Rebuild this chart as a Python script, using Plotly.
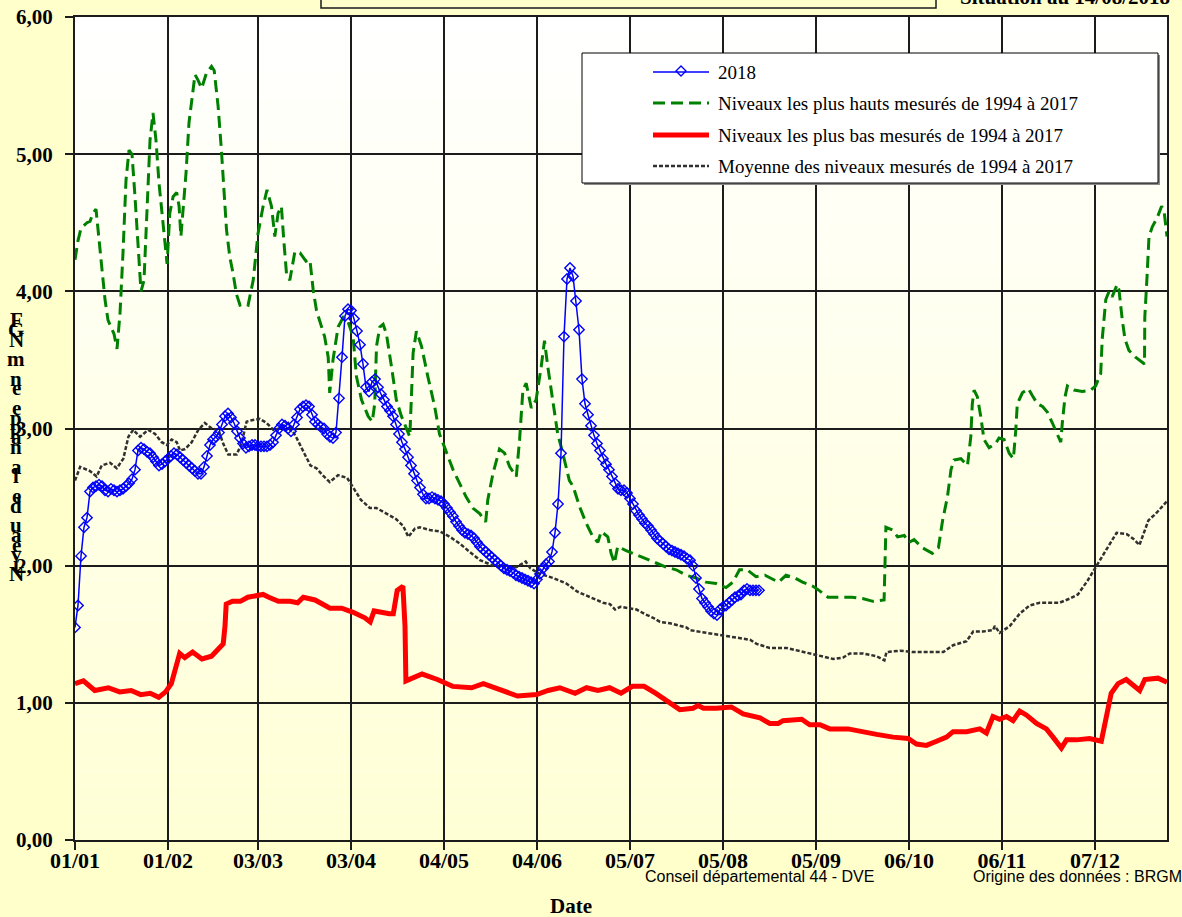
import plotly.graph_objects as go

# ---------------- data ----------------
TICK_DAYS = [0, 31, 61, 92, 123, 154, 185, 216, 247, 278, 309, 340]
TICK_LABELS = ["01/01", "01/02", "03/03", "03/04", "04/05", "04/06",
               "05/07", "05/08", "05/09", "06/10", "06/11", "07/12"]
Y_TICKS = [0, 1, 2, 3, 4, 5, 6]
Y_LABELS = ["0,00", "1,00", "2,00", "3,00", "4,00", "5,00", "6,00"]

DAYS_2018 = list(range(0, 229))
LEVEL_2018 = [
    1.55, 1.71, 2.07, 2.28, 2.35, 2.54, 2.57, 2.58, 2.59, 2.58,
    2.55, 2.54, 2.56, 2.55, 2.54, 2.55, 2.56, 2.58, 2.60, 2.63,
    2.70, 2.84, 2.86, 2.85, 2.83, 2.82, 2.79, 2.76, 2.73, 2.74,
    2.76, 2.78, 2.80, 2.82, 2.81, 2.79, 2.77, 2.75, 2.73, 2.71,
    2.69, 2.67, 2.67, 2.72, 2.80, 2.88, 2.92, 2.94, 2.97, 3.03,
    3.09, 3.11, 3.08, 3.04, 2.98, 2.93, 2.89, 2.86, 2.87, 2.88,
    2.88, 2.87, 2.87, 2.87, 2.87, 2.88, 2.90, 2.95, 3.00, 3.03,
    3.02, 3.00, 2.98, 3.03, 3.08, 3.14, 3.16, 3.17, 3.16, 3.10,
    3.05, 3.03, 3.01, 3.00, 2.96, 2.94, 2.93, 2.97, 3.22, 3.52,
    3.82, 3.87, 3.86, 3.80, 3.71, 3.61, 3.47, 3.30, 3.27, 3.34,
    3.36, 3.30, 3.25, 3.21, 3.16, 3.13, 3.09, 3.03, 2.96, 2.90,
    2.85, 2.79, 2.73, 2.67, 2.62, 2.57, 2.52, 2.49, 2.49, 2.50,
    2.49, 2.48, 2.47, 2.45, 2.42, 2.39, 2.36, 2.32, 2.29, 2.26,
    2.24, 2.23, 2.22, 2.20, 2.17, 2.14, 2.12, 2.10, 2.08, 2.06,
    2.04, 2.02, 2.00, 1.98, 1.97, 1.96, 1.95, 1.93, 1.92, 1.91,
    1.90, 1.89, 1.88, 1.87, 1.90, 1.94, 1.98, 2.01, 2.03, 2.10,
    2.24, 2.45, 2.82, 3.67, 4.09, 4.17, 4.11, 3.93, 3.72, 3.36,
    3.18, 3.10, 3.02, 2.95, 2.89, 2.84, 2.78, 2.74, 2.70, 2.65,
    2.60, 2.56, 2.55, 2.55, 2.53, 2.49, 2.45, 2.40, 2.37, 2.34,
    2.31, 2.29, 2.26, 2.23, 2.20, 2.18, 2.16, 2.14, 2.12, 2.11,
    2.10, 2.09, 2.08, 2.07, 2.05, 2.04, 2.00, 1.91, 1.83, 1.76,
    1.73, 1.70, 1.67, 1.65, 1.64, 1.68, 1.70, 1.71, 1.73, 1.75,
    1.77, 1.78, 1.79, 1.82, 1.83, 1.82, 1.82, 1.82, 1.82,
]

HIGH_DAYS = [
    0, 1, 2, 3, 4, 5, 6, 7, 8, 9, 10, 11, 12, 13, 14, 15, 16, 17, 18, 19,
    20, 21, 22, 23, 24, 25, 26, 27, 28, 30, 30.7, 31.6, 32.7, 33.9, 34.7, 35.3, 36, 37, 38, 39.2,
    40, 41, 42.2, 43.8, 45.5, 46.4, 47.7, 48.8, 50, 50.5, 51.6, 52.7, 53.8, 55, 56.6, 57.7, 59.4, 61, 62.7, 64,
    65.5, 66.6, 67.7, 68.8, 69.6, 70.5, 71.6, 73.3, 75, 77, 78.3, 79.4, 80.5, 82.1, 83.2, 84.4, 84.9, 86, 87.7, 89.4,
    91, 92.7, 93.8, 95.5, 97.7, 99.1, 99.9, 100.5, 101.6, 102.7, 103.8, 105.5, 107.1, 108.8, 110.4, 111.6, 112.1, 112.7, 113.8, 115.5,
    117.6, 119.9, 121.5, 123.8, 126, 128.2, 130.4, 132.6, 134.9, 136.9, 137.6, 139.3, 141.5, 143.2, 144.9, 147.1, 148.2, 149.3, 150.4, 152.1,
    153.7, 155.4, 156.5, 157.6, 159.3, 160.9, 162.6, 164.8, 166, 168.2, 170.4, 172.6, 174.3, 175.4, 177.6, 178.7, 179.8, 180.9, 183.7, 187,
    190.4, 193.7, 197, 200.4, 203.7, 207, 210.3, 213.7, 217, 219.3, 221.5, 224, 227, 230, 234.5, 237, 240, 242.5, 246, 248,
    251, 255, 259, 262.5, 266, 269.7, 270.3, 272.5, 274.2, 276.4, 278, 279.7, 282.5, 285.8, 287.8, 289.2, 290.8, 292, 293, 295.3,
    297.5, 298.6, 299.1, 299.7, 300.8, 301.9, 303, 304.7, 306.9, 308, 309.7, 311.4, 312.8, 313.6, 314.1, 315.8, 317.8, 319.1, 320.8, 322.5,
    324.1, 325.8, 327.5, 328.6, 329.1, 330, 330.8, 333, 335.8, 338.6, 340.2, 341.9, 342.4, 343.6, 344.7, 345.7, 347.4, 348, 349.1, 350,
    351.3, 353.5, 356.5, 356.6, 357.4, 358, 359.1, 360.8, 362.2, 363, 364,
]
HIGH_VALUES = [
    4.23, 4.37, 4.46, 4.48, 4.50, 4.51, 4.57, 4.60, 4.37, 4.13, 3.94, 3.79, 3.74, 3.69, 3.58, 3.84, 4.28, 4.81, 5.03, 5.00,
    4.69, 4.33, 4.00, 4.08, 4.62, 5.10, 5.30, 5.10, 4.79, 4.35, 4.20, 4.57, 4.69, 4.72, 4.62, 4.40, 4.57, 4.86, 5.23, 5.44,
    5.58, 5.54, 5.48, 5.59, 5.64, 5.61, 5.35, 5.03, 4.66, 4.45, 4.25, 4.13, 3.98, 3.90, 3.91, 3.90, 4.08, 4.42, 4.62, 4.74,
    4.62, 4.40, 4.57, 4.62, 4.37, 4.13, 4.08, 4.29, 4.28, 4.22, 4.23, 4.01, 3.86, 3.74, 3.67, 3.52, 3.26, 3.50, 3.74, 3.81,
    3.78, 3.67, 3.38, 3.21, 3.09, 3.05, 3.18, 3.60, 3.74, 3.76, 3.69, 3.45, 3.21, 3.09, 3.01, 2.94, 3.21, 3.55, 3.71, 3.60,
    3.38, 3.16, 2.96, 2.82, 2.70, 2.60, 2.50, 2.42, 2.38, 2.32, 2.48, 2.67, 2.85, 2.82, 2.72, 2.65, 2.92, 3.28, 3.33, 3.15,
    3.21, 3.45, 3.64, 3.45, 3.18, 2.96, 2.82, 2.62, 2.58, 2.43, 2.31, 2.21, 2.17, 2.25, 2.21, 2.09, 2.02, 2.14, 2.11, 2.08,
    2.05, 2.02, 1.99, 1.97, 1.93, 1.91, 1.88, 1.87, 1.84, 1.88, 1.97, 1.97, 1.92, 1.93, 1.88, 1.93, 1.91, 1.88, 1.85, 1.82,
    1.77, 1.77, 1.77, 1.76, 1.74, 1.75, 2.28, 2.26, 2.21, 2.22, 2.17, 2.19, 2.13, 2.09, 2.13, 2.33, 2.50, 2.70, 2.77, 2.78,
    2.73, 2.94, 3.18, 3.28, 3.23, 3.09, 2.92, 2.86, 2.89, 2.93, 2.92, 2.82, 2.78, 2.99, 3.18, 3.26, 3.29, 3.24, 3.18, 3.16,
    3.12, 3.04, 2.96, 2.90, 3.04, 3.23, 3.31, 3.28, 3.27, 3.28, 3.31, 3.40, 3.65, 3.94, 4.00, 3.96, 4.05, 4.01, 3.79, 3.65,
    3.57, 3.52, 3.47, 3.81, 4.13, 4.40, 4.47, 4.54, 4.62, 4.59, 4.40,
]

LOW_DAYS = [
    0, 2.8, 6.6, 11.1, 14.9, 18.7, 21.9, 25.1, 27.9, 30.2, 32.1, 33.4, 34.9, 36.6, 39.2, 42.3, 45.5, 48.1, 49.4, 50,
    50.4, 52.5, 55.1, 57.6, 62.7, 64.6, 67.8, 71.7, 74.2, 76.1, 80, 85, 88.9, 92.7, 96.6, 98.4, 99.7, 104.8, 106.1, 107.4,
    109.3, 110, 110.3, 115.7, 120.8, 125.9, 132.2, 136.1, 142.4, 147.5, 153.9, 157.7, 161.6, 166.7, 170.5, 174.3, 178.2, 182, 185.8, 189.7,
    193.5, 197.3, 201.6, 206, 207.7, 209.5, 213.8, 218.8, 222.7, 228.3, 231.6, 234.4, 236, 242.2, 244.9, 248.3, 251.6, 257.7, 261.6, 267.2,
    272.7, 277.7, 280.5, 283.8, 287.2, 290.5, 292.7, 297.2, 301.6, 303.8, 306, 308.2, 310.5, 312.7, 314.9, 317.2, 320.5, 323.8, 326, 328.8,
    330.5, 333.8, 338.2, 342.1, 343.8, 345.4, 347.7, 350.4, 354.9, 356.6, 361, 364,
]
LOW_VALUES = [
    1.14, 1.16, 1.09, 1.11, 1.08, 1.09, 1.06, 1.07, 1.04, 1.08, 1.14, 1.24, 1.36, 1.33, 1.37, 1.32, 1.34, 1.40, 1.43, 1.56,
    1.72, 1.74, 1.74, 1.77, 1.79, 1.77, 1.74, 1.74, 1.73, 1.77, 1.75, 1.69, 1.69, 1.66, 1.62, 1.59, 1.67, 1.65, 1.65, 1.82,
    1.85, 1.56, 1.16, 1.21, 1.17, 1.12, 1.11, 1.14, 1.09, 1.05, 1.06, 1.09, 1.11, 1.07, 1.11, 1.09, 1.11, 1.07, 1.12, 1.12,
    1.07, 1.01, 0.95, 0.96, 0.98, 0.96, 0.96, 0.97, 0.92, 0.89, 0.85, 0.85, 0.87, 0.88, 0.84, 0.84, 0.81, 0.81, 0.79, 0.77,
    0.75, 0.74, 0.70, 0.69, 0.72, 0.75, 0.79, 0.79, 0.81, 0.78, 0.90, 0.88, 0.90, 0.87, 0.94, 0.91, 0.85, 0.81, 0.75, 0.67,
    0.73, 0.73, 0.74, 0.72, 0.90, 1.07, 1.14, 1.17, 1.09, 1.17, 1.18, 1.15,
]

MEAN_DAYS = [
    0, 1.7, 5, 7.2, 8.9, 11.7, 13.9, 16.1, 17.8, 19.4, 21.7, 24.4, 26.7, 28.9, 30.6, 32.2, 33.9, 35, 36.7, 38.9,
    41.1, 43.3, 45.6, 47.8, 49.4, 51.1, 53.9, 55.5, 57.2, 58.9, 61.6, 63.9, 66.1, 68.3, 71.1, 73.9, 76.4, 78.5, 80.5, 82.5,
    84.9, 87.7, 90.7, 93, 95.3, 98.3, 100.5, 103.8, 107, 109.4, 111.1, 113.3, 115, 118.3, 121.6, 125, 128.3, 131.6, 135, 139.4,
    143.9, 147.2, 150.2, 151.8, 155, 159.4, 163.8, 167.5, 172.7, 176, 178.3, 180, 181.8, 187.2, 189.7, 192.7, 195, 198.3, 203.8, 205,
    210.5, 216, 221.6, 225, 227.2, 231.6, 237.2, 242.7, 247.2, 252.7, 256, 258.3, 262.7, 267.2, 269.8, 270.5, 275, 279.4, 283.9, 289.4,
    292.7, 297.2, 299.4, 302.7, 306, 306.6, 308.2, 311.6, 314.9, 318.2, 321.6, 324.9, 328.2, 331.6, 334.3, 337.5, 340.2, 343.7, 347.2, 350.6,
    353.1, 354.8, 357.8, 360.3, 364,
]
MEAN_VALUES = [
    2.62, 2.72, 2.69, 2.65, 2.73, 2.75, 2.71, 2.78, 2.94, 2.99, 2.94, 2.99, 2.96, 2.90, 2.88, 2.92, 2.90, 2.84, 2.85, 2.90,
    2.99, 3.04, 3.00, 2.99, 2.89, 2.81, 2.81, 2.89, 3.05, 3.06, 3.07, 3.04, 2.99, 3.00, 3.04, 2.93, 2.82, 2.73, 2.71, 2.66,
    2.61, 2.66, 2.64, 2.56, 2.48, 2.42, 2.42, 2.38, 2.34, 2.29, 2.21, 2.27, 2.28, 2.26, 2.25, 2.21, 2.16, 2.10, 2.04, 2.00,
    1.98, 1.99, 2.03, 1.98, 1.94, 1.91, 1.87, 1.81, 1.76, 1.73, 1.72, 1.68, 1.70, 1.68, 1.65, 1.62, 1.59, 1.58, 1.55, 1.53,
    1.51, 1.49, 1.47, 1.46, 1.43, 1.40, 1.40, 1.37, 1.35, 1.32, 1.33, 1.36, 1.36, 1.34, 1.31, 1.37, 1.38, 1.37, 1.37, 1.37,
    1.42, 1.45, 1.52, 1.52, 1.53, 1.56, 1.51, 1.56, 1.65, 1.71, 1.73, 1.73, 1.73, 1.76, 1.79, 1.89, 1.99, 2.11, 2.24, 2.23,
    2.19, 2.15, 2.33, 2.38, 2.47,
]

NAME_2018 = "2018"
NAME_HIGH = "Niveaux les plus hauts mesurés de 1994 à 2017"
NAME_LOW = "Niveaux les plus bas mesurés de 1994 à 2017"
NAME_MEAN = "Moyenne des niveaux mesurés de 1994 à 2017"
Y_TITLE = "Niveau de la nappe en m NGF"

# ---------------- geometry ----------------
W, H = 1182, 917
ML, MR, MT, MB = 75, 15, 17, 77
PW = W - ML - MR
PH = H - MT - MB


def px(x):
    return (x - ML) / PW


def py(y):
    return (H - MB - y) / PH


SERIF = "Liberation Serif, Times New Roman, serif"
SANS = "Liberation Sans, Arial, sans-serif"
GRID = "#1c1c1c"
BLUE = "#0000FF"
GREEN = "#008000"
RED = "#FF0000"
MEANC = "#303030"

GREEN_LINE = dict(color=GREEN, width=3, dash="12px,6px")
RED_LINE = dict(color=RED, width=5)
MEAN_LINE = dict(color=MEANC, width=2.5, dash="4px,2px")
BLUE_LINE = dict(color=BLUE, width=1.5)

fig = go.Figure()

fig.add_trace(go.Scatter(x=HIGH_DAYS, y=HIGH_VALUES, mode="lines", name=NAME_HIGH,
                         line=GREEN_LINE, showlegend=False))
fig.add_trace(go.Scatter(x=LOW_DAYS, y=LOW_VALUES, mode="lines", name=NAME_LOW,
                         line=RED_LINE, showlegend=False))
fig.add_trace(go.Scatter(x=MEAN_DAYS, y=MEAN_VALUES, mode="lines", name=NAME_MEAN,
                         line=MEAN_LINE, showlegend=False))
fig.add_trace(go.Scatter(x=DAYS_2018, y=LEVEL_2018, mode="lines+markers", name=NAME_2018,
                         line=BLUE_LINE,
                         marker=dict(symbol="diamond-open", size=8, color=BLUE,
                                     line=dict(color=BLUE, width=1.4)),
                         showlegend=False))

shapes = []
# vertical gradient in the plotting area (white at top -> pale yellow at bottom)
NB = 60
for i in range(NB):
    t = (i + 0.5) / NB
    b = int(round(255 - (255 - 213) * t))
    shapes.append(dict(type="rect", xref="paper", yref="paper", layer="below",
                       x0=0, x1=1, y0=1 - (i + 1) / NB, y1=1 - i / NB,
                       line=dict(width=0), fillcolor=f"rgb(255,255,{b})"))

# legend box (shadow + box)
shapes.append(dict(type="rect", xref="paper", yref="paper", layer="above",
                   x0=px(584), x1=px(1160), y0=py(185), y1=py(55),
                   line=dict(width=0), fillcolor="#8a8a8a"))
shapes.append(dict(type="rect", xref="paper", yref="paper", layer="above",
                   x0=px(582), x1=px(1158), y0=py(183), y1=py(53),
                   line=dict(color="#000000", width=1), fillcolor="#FFFFFF"))

ROWS = [72, 103, 135, 166]
LX0, LX1, TX = 653, 709, 716
for r, st in zip(ROWS, [BLUE_LINE, GREEN_LINE, RED_LINE, MEAN_LINE]):
    shapes.append(dict(type="line", xref="paper", yref="paper", layer="above",
                       x0=px(LX0), x1=px(LX1), y0=py(r), y1=py(r), line=st))
# diamond marker in the legend
cx, cy, s = 681, 71, 5
shapes.append(dict(type="path", xref="paper", yref="paper", layer="above",
                   path=(f"M {px(cx)},{py(cy - s)} L {px(cx + s)},{py(cy)} "
                         f"L {px(cx)},{py(cy + s)} L {px(cx - s)},{py(cy)} Z"),
                   line=dict(color=BLUE, width=1.4), fillcolor="rgba(0,0,0,0)"))

# box at the top (cut by the page edge)
shapes.append(dict(type="rect", xref="paper", yref="paper", layer="above",
                   x0=px(321), x1=px(936), y0=py(8), y1=py(-30),
                   line=dict(color="#1a1a1a", width=1.5), fillcolor="rgba(0,0,0,0)"))

annotations = []
for r, name in zip(ROWS, [NAME_2018, NAME_HIGH, NAME_LOW, NAME_MEAN]):
    annotations.append(dict(xref="paper", yref="paper", x=px(TX), y=py(r),
                            xanchor="left", yanchor="middle", showarrow=False,
                            text=name, font=dict(family=SERIF, size=19, color="#000000")))

# stacked (rotated-looking) y-axis title
chars = list(Y_TITLE)[::-1]
top_c, bot_c = 320, 574
step = (bot_c - top_c) / (len(chars) - 1)
for i, ch in enumerate(chars):
    if ch == " ":
        continue
    annotations.append(dict(xref="paper", yref="paper", x=px(16), y=py(top_c + i * step),
                            xanchor="center", yanchor="middle", showarrow=False,
                            text=ch, font=dict(family=SERIF, size=21, color="#000000",
                                               weight="bold")))

annotations.append(dict(xref="paper", yref="paper", x=px(571), y=py(906),
                        xanchor="center", yanchor="middle", showarrow=False,
                        text="Date", font=dict(family=SERIF, size=21, color="#000000",
                                               weight="bold")))
annotations.append(dict(xref="paper", yref="paper", x=px(643), y=py(876),
                        xanchor="left", yanchor="middle", showarrow=False,
                        text="Conseil départemental 44 - DVE",
                        font=dict(family=SANS, size=16, color="#000000")))
annotations.append(dict(xref="paper", yref="paper", x=px(971), y=py(876),
                        xanchor="left", yanchor="middle", showarrow=False,
                        text="Origine des données : BRGM",
                        font=dict(family=SANS, size=16, color="#000000")))
annotations.append(dict(xref="paper", yref="paper", x=px(958), y=py(11),
                        xanchor="left", yanchor="bottom", showarrow=False,
                        text="Situation au 14/08/2018",
                        font=dict(family=SERIF, size=21, color="#000000", weight="bold")))

axis_common = dict(
    showgrid=True, gridcolor=GRID, gridwidth=2,
    showline=True, linecolor=GRID, linewidth=2, mirror=True,
    ticks="outside", ticklen=8, tickwidth=2, tickcolor=GRID,
    zeroline=False, automargin=False,
)

fig.update_layout(
    width=W, height=H,
    margin=dict(l=ML, r=MR, t=MT, b=MB, pad=0, autoexpand=False),
    paper_bgcolor="#FFFFCC",
    plot_bgcolor="#FFFFFF",
    showlegend=False,
    xaxis=dict(range=[0, 364], tickmode="array", tickvals=TICK_DAYS, ticktext=TICK_LABELS,
               tickfont=dict(family=SERIF, size=22, color="#000000", weight="bold"),
               ticklabelstandoff=-8, **axis_common),
    yaxis=dict(range=[0, 6], tickmode="array", tickvals=Y_TICKS, ticktext=Y_LABELS,
               tickfont=dict(family=SERIF, size=21, color="#000000", weight="bold"),
               ticklabelstandoff=8, **axis_common),
    shapes=shapes,
    annotations=annotations,
)

fig.write_html("out.html", config={"displayModeBar": False},
               post_script="document.body.style.margin='0';document.body.style.overflow='hidden';")
